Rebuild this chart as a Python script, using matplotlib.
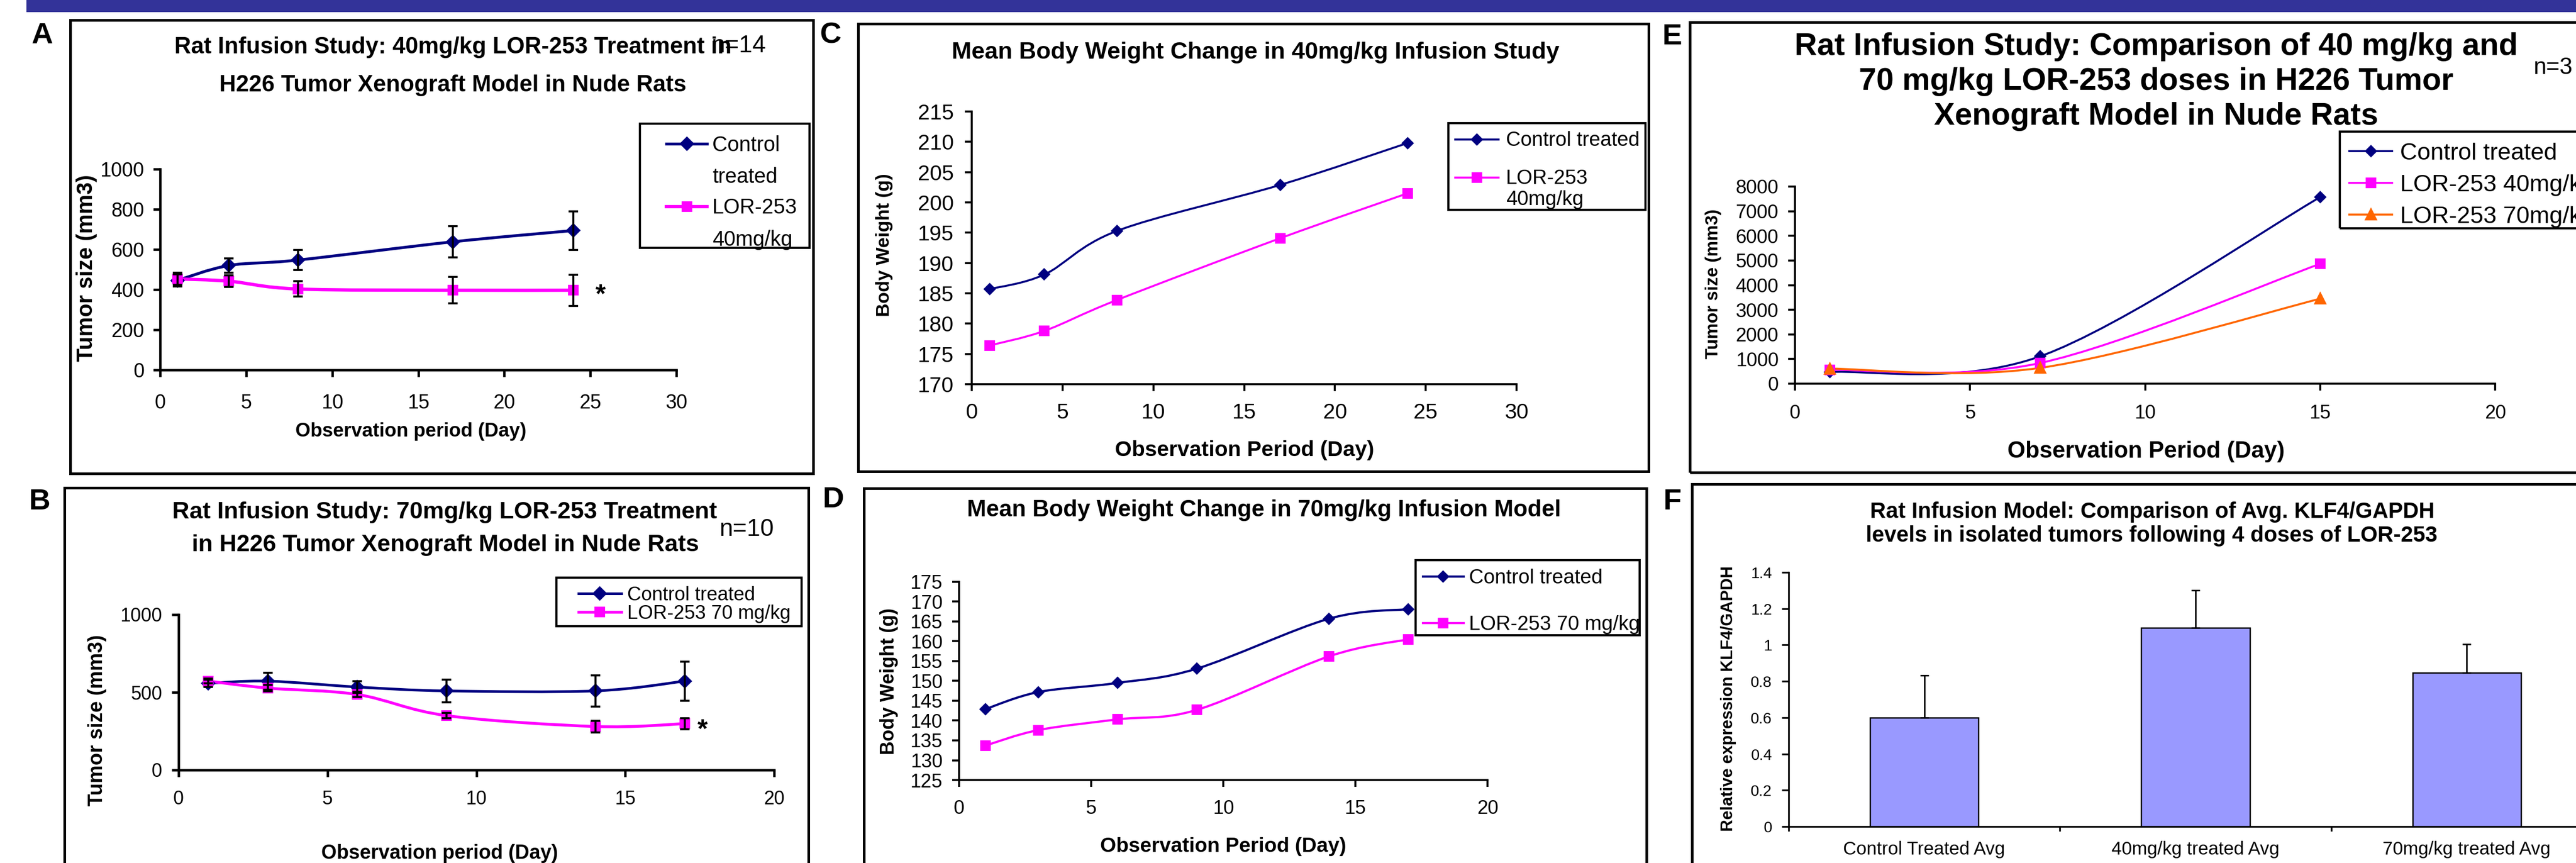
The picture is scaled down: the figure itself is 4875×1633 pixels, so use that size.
import matplotlib
matplotlib.use('Agg')
import matplotlib.pyplot as plt
import numpy as np
from matplotlib.lines import Line2D
from matplotlib.patches import PathPatch, Rectangle
from matplotlib.path import Path

W, H, DPI = 4875, 1633, 300
plt.rcParams['font.family'] = ['Liberation Sans', 'DejaVu Sans']

NAVY, PINK, ORANGE = '#000080', '#FF00FF', '#FF6600'
BAR_COLOR = '#9999FF'
BANNER = '#333399'

# ---- values ----
# A: tumour size, 40 mg/kg infusion
a_days = [1, 4, 8, 17, 24]
a_ctrl = [446, 520, 547, 638, 694]
a_ctrl_err = [30, 36, 50, 78, 96]
a_lor = [453, 442, 403, 397, 397]
a_lor_err = [30, 30, 38, 65, 78]

# B: tumour size, 70 mg/kg infusion
b_days = [1, 3, 6, 9, 14, 17]
b_ctrl = [558, 572, 534, 509, 509, 572]
b_ctrl_err = [25, 55, 38, 74, 100, 125]
b_lor = [572, 527, 486, 350, 280, 298]
b_lor_err = [15, 20, 18, 18, 38, 35]

# C: body weight, 40 mg/kg
c_days = [1, 4, 8, 17, 24]
c_ctrl = [185.7, 188.1, 195.3, 202.9, 209.8]
c_lor = [176.4, 178.8, 183.9, 194.1, 201.5]

# D: body weight, 70 mg/kg
d_days = [1, 3, 6, 9, 14, 17]
d_ctrl = [142.9, 147.2, 149.5, 153.1, 165.7, 168.1]
d_lor = [133.7, 137.6, 140.3, 142.7, 156.2, 160.5]

# E: 40 vs 70 mg/kg
e_days = [1, 7, 15]
e_ctrl = [470, 1108, 7569]
e_lor40 = [560, 837, 4862]
e_lor70 = [610, 640, 3446]

# F: KLF4/GAPDH
f_groups = ['Control Treated Avg', '40mg/kg treated Avg', '70mg/kg treated Avg']
f_vals = [0.60, 1.095, 0.848]
f_err = [0.233, 0.205, 0.155]

fig = plt.figure(figsize=(W / DPI, H / DPI), dpi=DPI)


def fx(px):
    return px / W


def fy(py):
    return 1 - py / H


def frame(x0, y0, x1, y1, lw=1.2):
    fig.add_artist(Rectangle((fx(x0), fy(y1)), (x1 - x0) / W, (y1 - y0) / H,
                             transform=fig.transFigure, fill=False,
                             edgecolor='black', lw=lw))


def text(px, py, s, size, bold=True, ha='center'):
    fig.text(fx(px), fy(py), s, fontsize=size, ha=ha, va='center',
             fontweight='bold' if bold else 'normal')


def make_axes(rect, xlim, xticks, ylim, yticks, size, xpad, ypad, lw=1.0):
    x0, y0, x1, y1 = rect
    ax = fig.add_axes([fx(x0), fy(y1), (x1 - x0) / W, (y1 - y0) / H])
    ax.patch.set_visible(False)
    ax.spines[['top', 'right']].set_visible(False)
    ax.spines[['left', 'bottom']].set_linewidth(lw)
    ax.set_xlim(*xlim)
    ax.set_ylim(*ylim)
    ax.set_xticks(xticks)
    ax.set_yticks(yticks)
    ax.tick_params(axis='x', length=3.2, width=lw, pad=xpad, labelsize=size)
    ax.tick_params(axis='y', length=3.2, width=lw, pad=ypad, labelsize=size)
    return ax


def axis_labels(ax, rect, xlab, xpos, xsize, ylab, ypos, ysize):
    x0, y0, x1, y1 = rect
    ax.set_xlabel(xlab, fontsize=xsize, fontweight='bold', va='center')
    ax.xaxis.set_label_coords((xpos[0] - x0) / (x1 - x0), (y1 - xpos[1]) / (y1 - y0))
    ax.set_ylabel(ylab, fontsize=ysize, fontweight='bold', va='center')
    ax.yaxis.set_label_coords((ypos[0] - x0) / (x1 - x0), (y1 - ypos[1]) / (y1 - y0))


def smooth(ax, x, y, color, lw):
    # Excel style smoothed line: bezier segments through the data points
    x = np.asarray(x, float)
    y = np.asarray(y, float)
    px = np.r_[x[0], x, x[-1]]
    py = np.r_[y[0], y, y[-1]]
    verts = [(x[0], y[0])]
    for i in range(1, len(x)):
        verts.append((px[i] + (px[i + 1] - px[i - 1]) / 6, py[i] + (py[i + 1] - py[i - 1]) / 6))
        verts.append((px[i + 1] - (px[i + 2] - px[i]) / 6, py[i + 1] - (py[i + 2] - py[i]) / 6))
        verts.append((x[i], y[i]))
    codes = [Path.MOVETO] + [Path.CURVE4] * (len(verts) - 1)
    ax.add_patch(PathPatch(Path(verts, codes), fill=False, edgecolor=color, lw=lw, zorder=2))


def series(ax, x, y, color, marker, ms, lw, err=None):
    smooth(ax, x, y, color, lw)
    ax.plot(x, y, ls='none', marker=marker, ms=ms, color=color, zorder=4, clip_on=False)
    if err is not None:
        ax.errorbar(x, y, yerr=err, fmt='none', ecolor='black', elinewidth=0.9,
                    capsize=2.2, capthick=0.9, zorder=5)
    return Line2D([], [], color=color, lw=lw, marker=marker, ms=ms)


def legend(ax, handles, labels, px, py, size, hlen, hpad, spacing, **kw):
    return ax.legend(handles, labels, loc='upper left', bbox_to_anchor=(fx(px), fy(py)),
                     bbox_transform=fig.transFigure, frameon=False, borderpad=0,
                     borderaxespad=0, fontsize=size, handlelength=hlen,
                     handletextpad=hpad, labelspacing=spacing, numpoints=1, **kw)


def handle_on_first_line(leg, linespacing):
    # Excel puts the legend key beside the first line of a wrapped label
    for t in leg.get_texts():
        t.set_linespacing(linespacing)
    try:
        for column in leg._legend_handle_box.get_children():
            for item in column.get_children():
                item.align = 'top'
    except AttributeError:
        pass


# banner across the top
fig.add_artist(Rectangle((fx(50), fy(23)), 1 - fx(50), 23 / H, transform=fig.transFigure,
                         facecolor=BANNER, edgecolor='none'))

# ---------------- A ----------------
frame(133, 38, 1539, 896)
text(80, 68, 'A', 13.5)
text(857, 89, 'Rat Infusion Study: 40mg/kg LOR-253 Treatment in', 10.5)
text(857, 161, 'H226 Tumor Xenograft Model in Nude Rats', 10.5)
text(1398, 87, 'n=14', 11, bold=False)
A_AX = (303, 320, 1280, 700)
ax = make_axes(A_AX, (0, 30), range(0, 31, 5), (0, 1000), range(0, 1001, 200), 9, 7.6, 4.0, lw=1.1)
axis_labels(ax, A_AX, 'Observation period (Day)', (778, 816), 8.8, 'Tumor size (mm3)', (164, 507), 10)
h1 = series(ax, a_days, a_ctrl, NAVY, 'D', 3.6, 1.3, a_ctrl_err)
h2 = series(ax, a_days, a_lor, PINK, 's', 4.0, 1.5, a_lor_err)
ax.text(25.6, 371, '*', fontsize=12, ha='center', va='center', fontweight='bold')
frame(1211, 234, 1532, 469, lw=1.0)
leg = legend(ax, [h1, h2], ['Control\ntreated', 'LOR-253\n40mg/kg'], 1261, 256, 9.5, 1.95, 0.25, 0.5,
             handleheight=1.1)
handle_on_first_line(leg, 1.75)

# ---------------- B ----------------
frame(122, 923, 1530, 1700)
text(75, 950, 'B', 13.5)
text(842, 969, 'Rat Infusion Study: 70mg/kg LOR-253 Treatment', 10.8)
text(843, 1032, 'in H226 Tumor Xenograft Model in Nude Rats', 10.8)
text(1413, 1002, 'n=10', 11, bold=False)
B_AX = (338, 1163, 1465, 1457)
ax = make_axes(B_AX, (0, 20), range(0, 21, 5), (0, 1000), [0, 500, 1000], 8.6, 5.9, 4.3, lw=1.1)
axis_labels(ax, B_AX, 'Observation period (Day)', (832, 1615), 9, 'Tumor size (mm3)', (184, 1363), 9.2)
h1 = series(ax, b_days, b_ctrl, NAVY, 'D', 3.6, 1.2, b_ctrl_err)
h2 = series(ax, b_days, b_lor, PINK, 's', 4.0, 1.3, b_lor_err)
ax.text(17.6, 255, '*', fontsize=12, ha='center', va='center', fontweight='bold')
frame(1053, 1093, 1517, 1185, lw=1.0)
legend(ax, [h1, h2], ['Control treated', 'LOR-253 70 mg/kg'], 1095, 1109, 8.8, 2.2, 0.3, 0.0)

# ---------------- C ----------------
frame(1624, 45, 3120, 892)
text(1572, 68, 'C', 13.5)
text(2376, 99, 'Mean Body Weight Change in 40mg/kg Infusion Study', 10.8)
C_AX = (1839, 211, 2870, 727)
ax = make_axes(C_AX, (0, 30), range(0, 31, 5), (170, 215), range(170, 216, 5), 9.8, 5.1, 5.0, lw=0.9)
axis_labels(ax, C_AX, 'Observation Period (Day)', (2355, 852), 9.8, 'Body Weight (g)', (1673, 464), 8.5)
h1 = series(ax, c_days, c_ctrl, NAVY, 'D', 2.9, 0.9)
h2 = series(ax, c_days, c_lor, PINK, 's', 3.7, 0.9)
frame(2741, 233, 3114, 397, lw=1.0)
leg = legend(ax, [h1, h2], ['Control treated', 'LOR-253\n40mg/kg'], 2754, 248, 9.2, 2.15, 0.35, 0.92,
             handleheight=1.1)
handle_on_first_line(leg, 1.15)

# ---------------- D ----------------
frame(1635, 924, 3116, 1700)
text(1577, 946, 'D', 13.5)
text(2392, 966, 'Mean Body Weight Change in 70mg/kg Infusion Model', 10.5)
D_AX = (1815, 1101, 2815, 1476)
ax = make_axes(D_AX, (0, 20), range(0, 21, 5), (125, 175), range(125, 176, 5), 8.8, 5.8, 4.3, lw=0.9)
axis_labels(ax, D_AX, 'Observation Period (Day)', (2315, 1602), 9.3, 'Body Weight (g)', (1683, 1289), 8.7)
h1 = series(ax, d_days, d_ctrl, NAVY, 'D', 3.2, 1.0)
h2 = series(ax, d_days, d_lor, PINK, 's', 3.9, 1.0)
frame(2679, 1060, 3103, 1202, lw=1.0)
legend(ax, [h1, h2], ['Control treated', 'LOR-253 70 mg/kg'], 2693, 1076, 9.2, 2.0, 0.27, 1.36)

# ---------------- E ----------------
frame(3198, 42, 4950, 894)
text(3164, 70, 'E', 13.5)
text(4080, 88, 'Rat Infusion Study: Comparison of 40 mg/kg and', 14.2)
text(4080, 155, '70 mg/kg LOR-253 doses in H226 Tumor', 14.2)
text(4080, 220, 'Xenograft Model in Nude Rats', 14.2)
text(4794, 128, 'n=3', 10.5, bold=False, ha='left')
E_AX = (3397, 353, 4722, 726)
ax = make_axes(E_AX, (0, 20), range(0, 21, 5), (0, 8000), range(0, 8001, 1000), 8.8, 6.2, 4.3, lw=0.9)
axis_labels(ax, E_AX, 'Observation Period (Day)', (4061, 855), 10.5, 'Tumor size (mm3)', (3243, 537), 8)
h1 = series(ax, e_days, e_ctrl, NAVY, 'D', 3.2, 0.9)
h2 = series(ax, e_days, e_lor40, PINK, 's', 4.0, 0.9)
h3 = series(ax, e_days, e_lor70, ORANGE, '^', 4.5, 0.9)
frame(4428, 249, 4950, 432, lw=1.0)
legend(ax, [h1, h2, h3], ['Control treated', 'LOR-253 40mg/kg', 'LOR-253 70mg/kg'],
       4446, 270, 10.8, 1.8, 0.33, 0.42)

# ---------------- F ----------------
frame(3202, 916, 4950, 1700)
text(3164, 950, 'F', 13.5)
text(4073, 969, 'Rat Infusion Model: Comparison of Avg. KLF4/GAPDH', 10)
text(4072, 1014, 'levels in isolated tumors following 4 doses of LOR-253', 10)
F_AX = (3385, 1083, 4925, 1564)
ax = make_axes(F_AX, (0, 3), [0, 1, 2, 3], (0, 1.4), np.arange(0, 1.41, 0.2), 7, 6.5, 4.3, lw=0.8)
ax.set_yticklabels([f'{v:g}' for v in np.round(np.arange(0, 1.41, 0.2), 1)])
ax.set_xticklabels([])
ax.tick_params(axis='x', length=2.2)
centres = np.arange(len(f_groups)) + 0.5
ax.set_xticks(centres, minor=True)
ax.set_xticklabels(f_groups, minor=True)
ax.tick_params(axis='x', which='minor', length=0, labelsize=8.3, pad=6.5)
ax.bar(centres, f_vals, width=0.4, color=BAR_COLOR, edgecolor='black', lw=0.6, zorder=2)
ax.errorbar(centres, f_vals, yerr=[np.zeros(len(f_vals)), f_err], fmt='none', ecolor='black',
            elinewidth=0.7, capsize=1.9, capthick=0.7, zorder=3)
ax.set_ylabel('Relative expression KLF4/GAPDH', fontsize=7.5, fontweight='bold', va='center')
ax.yaxis.set_label_coords((3271 - 3385) / (4925 - 3385), (1564 - 1322) / (1564 - 1083))

fig.savefig('out.png', dpi=DPI)
